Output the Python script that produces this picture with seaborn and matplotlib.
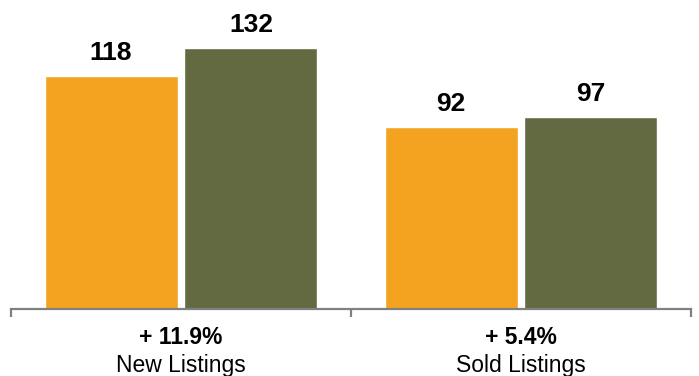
import matplotlib
matplotlib.use("Agg")
import matplotlib.pyplot as plt
import seaborn as sns
import pandas as pd
from matplotlib.transforms import blended_transform_factory

categories = ["New Listings", "Sold Listings"]
changes = ["+ 11.9%", "+ 5.4%"]
periods = ["Prior", "Current"]
prior_values = [118, 92]
current_values = [132, 97]
colors = ["#F4A321", "#636A42"]

rows = []
for c, p, v in zip(categories, prior_values, current_values):
    rows.append({"category": c, "period": "Prior", "value": p})
    rows.append({"category": c, "period": "Current", "value": v})
df = pd.DataFrame(rows)

sns.set_style("white")
plt.rcParams["font.family"] = ["Liberation Sans", "DejaVu Sans"]

fig = plt.figure(figsize=(6.99, 3.76), dpi=100)
ax = fig.add_axes([11 / 699, (376 - 309) / 376, 680 / 699, 309 / 376])

sns.barplot(data=df, x="category", y="value", hue="period", hue_order=periods,
            palette=colors, width=0.8235, gap=0.05, saturation=1, legend=False,
            ax=ax, order=categories)

ax.set_xlim(-0.5, 1.5)
ax.set_ylim(0, 156.5)
for cont in ax.containers:
    ax.bar_label(cont, padding=8, fontsize=19, fontweight="bold", color="black")

for s in ["top", "right", "left"]:
    ax.spines[s].set_visible(False)
ax.spines["bottom"].set_color("#808080")
ax.spines["bottom"].set_linewidth(1.6)
ax.set_yticks([])
ax.set_xticks([-0.5, 0.5, 1.5])
ax.set_xticklabels([])
ax.tick_params(axis="x", direction="out", length=6, width=1.6, color="#808080", bottom=True)
ax.set_xlabel("")
ax.set_ylabel("")

trans = blended_transform_factory(ax.transData, fig.transFigure)
for i, (cat, ch) in enumerate(zip(categories, changes)):
    ax.text(i, 1 - 344 / 376, ch, transform=trans, ha="center", va="baseline",
            fontsize=16.5, fontweight="bold", color="black")
    ax.text(i, 1 - 372 / 376, cat, transform=trans, ha="center", va="baseline",
            fontsize=16.5, color="black")

fig.savefig("out.png", dpi=100)
